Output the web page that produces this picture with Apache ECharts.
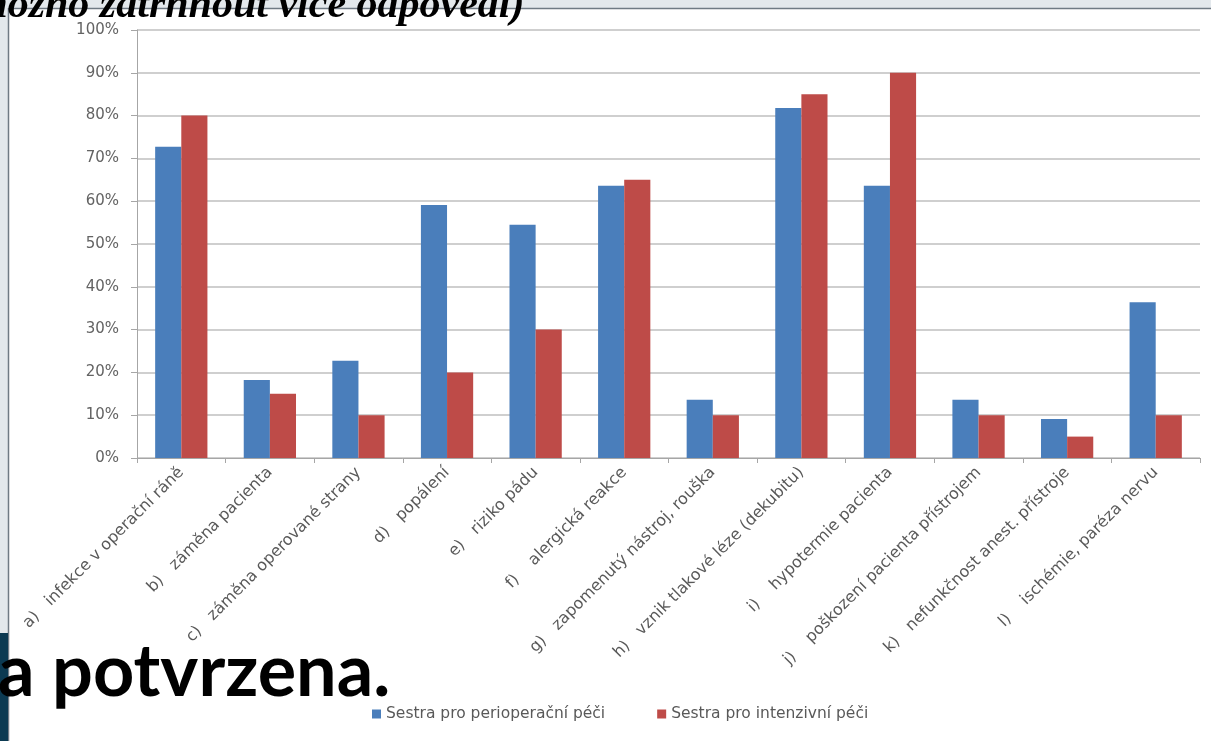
<!DOCTYPE html>
<html>
<head>
<meta charset="utf-8">
<style>
  html, body { margin: 0; padding: 0; background: #ffffff; }
  #chart { width: 1211px; height: 741px; }
</style>
<script src="https://cdn.jsdelivr.net/npm/echarts@6/dist/echarts.min.js"></script>
</head>
<body>
<div id="chart"></div>
<script>
// Categories of adverse events (answer options)
const categories = [
  'a)   infekce v operační ráně',
  'b)   záměna pacienta',
  'c)   záměna operované strany',
  'd)   popálení',
  'e)   riziko pádu',
  'f)    alergická reakce',
  'g)   zapomenutý nástroj, rouška',
  'h)   vznik tlakové léze (dekubitu)',
  'i)    hypotermie pacienta',
  'j)    poškození pacienta přístrojem',
  'k)   nefunkčnost anest. přístroje',
  'l)    ischémie, paréza nervu'
];

// Share of respondents (%) per group
const perioperacni = [72.7, 18.2, 22.7, 59.1, 54.5, 63.6, 13.6, 81.8, 63.6, 13.6, 9.1, 36.4];
const intenzivni   = [80, 15, 10, 20, 30, 65, 10, 85, 90, 10, 5, 10];

const seriesNames = ['Sestra pro perioperační péči', 'Sestra pro intenzivní péči'];
const yTicks = [0, 10, 20, 30, 40, 50, 60, 70, 80, 90, 100];

const headingText = 'možno zatrhnout více odpovědí)';
const footerText = 'a potvrzena.';

const chart = echarts.init(document.getElementById('chart'));

const labelFont = '"DejaVu Sans", "Open Sans", sans-serif';

chart.setOption({
  animation: false,
  backgroundColor: '#ffffff',
  color: ['#4a7ebb', '#be4b48'],
  grid: { left: 137, right: 11, top: 30, bottom: 283, containLabel: false },
  legend: {
    bottom: 14,
    left: 367,
    itemWidth: 9,
    itemHeight: 9,
    itemGap: 52,
    icon: 'rect',
    textStyle: { color: '#595959', fontSize: 15.5, fontFamily: labelFont },
    data: seriesNames
  },
  xAxis: {
    type: 'category',
    data: categories,
    axisLine: { lineStyle: { color: '#a6a6a6' } },
    axisTick: { show: true, length: 5, lineStyle: { color: '#a6a6a6' } },
    axisLabel: {
      rotate: 45,
      interval: 0,
      margin: 12,
      color: '#595959',
      fontSize: 16,
      fontFamily: labelFont
    }
  },
  yAxis: {
    type: 'value',
    min: yTicks[0],
    max: yTicks[yTicks.length - 1],
    interval: 10,
    axisLine: { show: true, lineStyle: { color: '#a6a6a6' } },
    axisTick: { show: true, length: 6, lineStyle: { color: '#a6a6a6' } },
    axisLabel: {
      margin: 18,
      color: '#636363',
      fontSize: 15,
      fontFamily: labelFont,
      formatter: v => v + '%'
    },
    splitLine: { lineStyle: { color: '#bfbfbf', width: 1.5 } }
  },
  series: [
    {
      name: seriesNames[0],
      type: 'bar',
      data: perioperacni,
      barGap: '0%',
      barCategoryGap: '41%'
    },
    {
      name: seriesNames[1],
      type: 'bar',
      data: intenzivni,
      barGap: '0%',
      barCategoryGap: '41%'
    }
  ],
  graphic: [
    // slide frame around the chart
    { type: 'rect', shape: { x: 0, y: 0, width: 1211, height: 8 }, style: { fill: '#e3e8ec' }, z: 10 },
    { type: 'rect', shape: { x: 0, y: 0, width: 8, height: 741 }, style: { fill: '#e3e8ec' }, z: 10 },
    { type: 'line', shape: { x1: 8, y1: 8.5, x2: 1211, y2: 8.5 }, style: { stroke: '#6f7a84', lineWidth: 1.5 }, z: 11 },
    { type: 'line', shape: { x1: 8.5, y1: 8, x2: 8.5, y2: 741 }, style: { stroke: '#6f7a84', lineWidth: 1.5 }, z: 11 },
    { type: 'rect', shape: { x: 0, y: 633, width: 8, height: 108 }, style: { fill: '#0c3a52' }, z: 12 },
    // slide heading and body text over the chart
    {
      type: 'text', left: -25, top: -15, z: 20,
      style: {
        text: headingText,
        fill: '#000000',
        font: 'italic bold 42px "Liberation Serif", "DejaVu Serif", serif'
      }
    },
    {
      type: 'text', left: -2, top: 637, z: 20,
      style: {
        text: footerText,
        fill: '#000000',
        font: 'bold 72px "Lato", "Open Sans", sans-serif'
      }
    }
  ]
});
</script>
</body>
</html>
